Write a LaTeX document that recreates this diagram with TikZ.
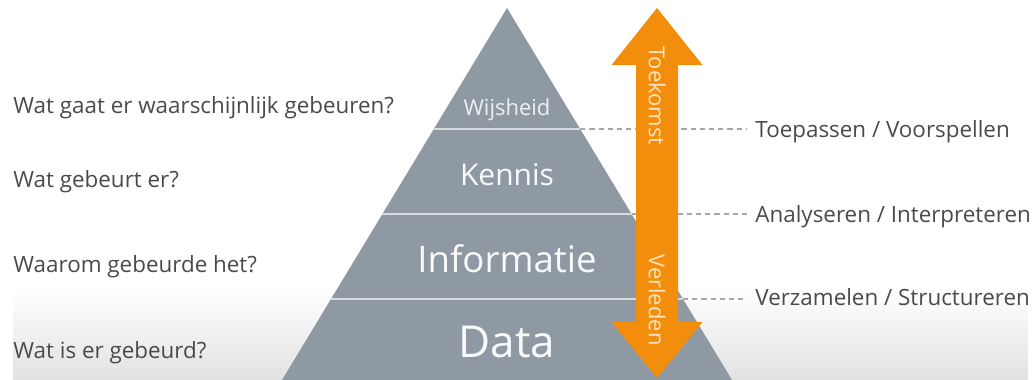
\documentclass[tikz,border=0pt]{standalone}
\usepackage{fontspec}
\setmainfont{Open Sans}
\usepackage{xcolor}
\usepackage{tikz}

\definecolor{pyrgray}{HTML}{8E99A3}
\definecolor{sepline}{HTML}{D6DCE1}
\definecolor{arroworange}{HTML}{F28E0C}
\definecolor{arrowtext}{HTML}{FDE4BF}
\definecolor{labeltext}{HTML}{4A4A4A}
\definecolor{bandgray}{HTML}{E2E2E2}
\definecolor{guidegray}{HTML}{A3A8AD}

\begin{document}
\begin{tikzpicture}[x=0.5pt,y=-0.5pt,
  question/.style={anchor=base west,inner sep=0pt,text=labeltext,font=\fontsize{11.2}{13}\selectfont},
  action/.style={anchor=base west,inner sep=0pt,text=labeltext,font=\fontsize{11.2}{13}\selectfont},
  layer/.style={anchor=base,inner sep=0pt,text=white!94!pyrgray},
  arrowlabel/.style={rotate=-90,inner sep=0pt,text=arrowtext,font=\fontsize{11}{13}\selectfont},
  guide/.style={guidegray,line width=0.6pt,dash pattern=on 2.6pt off 2pt,shorten >=4pt}]

\useasboundingbox (0,0) rectangle (1033,380);

% background band
\shade[top color=white,bottom color=bandgray] (13,288) rectangle (1028,380);

% pyramid

\coordinate (apex) at (507,8);
\coordinate (bl) at (282,380);
\coordinate (br) at (732,380);
\fill[pyrgray] (apex) -- (bl) -- (br) -- cycle;

\coordinate (l1) at (433.8,129); \coordinate (r1) at (580.2,129);
\coordinate (l2) at (382.4,214); \coordinate (r2) at (631.6,214);
\coordinate (l3) at (331,299);   \coordinate (r3) at (683,299);

%% layer lines
\draw[sepline,line width=1pt] (l1) -- (r1);
\draw[sepline,line width=1pt] (l2) -- (r2);
\draw[sepline,line width=1pt] (l3) -- (r3);

%% layer names
\node[layer,font=\fontsize{11}{13}\selectfont,text=white!85!pyrgray] (wijs) at (507,115) {Wijsheid};
\node[layer,font=\fontsize{15}{18}\selectfont] (kennis) at (507,185) {Kennis};
\node[layer,font=\fontsize{18.3}{22}\selectfont] (info) at (507,272) {Informatie};
\node[layer,font=\fontsize{22}{26}\selectfont] (data) at (507,357) {Data};

%% questions
\node[question] (q1) at (13,113) {Wat gaat er waarschijnlijk gebeuren?};
\node[question] (q2) at (13,187) {Wat gebeurt er?};
\node[question] (q3) at (13,272) {Waarom gebeurde het?};
\node[question] (q4) at (13,358) {Wat is er gebeurd?};

%% actions
\node[action] (a1) at (755,137) {Toepassen / Voorspellen};
\node[action] (a2) at (755,222) {Analyseren / Interpreteren};
\node[action] (a3) at (755,305) {Verzamelen / Structureren};

%% dashed lines
\draw[guide] (r1) -- (r1 -| a1.west);
\draw[guide] (r2) -- (r2 -| a2.west);
\draw[guide] (r3) -- (r3 -| a3.west);

%% arrow
\fill[arroworange] (657,8) -- (702.5,65) -- (678,65) -- (678,322) -- (702.5,322)
  -- (657,378) -- (611.5,322) -- (636,322) -- (636,65) -- (611.5,65) -- cycle;
\node[arrowlabel] (toekomst) at (657,96) {Toekomst};
\node[arrowlabel] (verleden) at (657,300) {Verleden};

\end{tikzpicture}
\end{document}
